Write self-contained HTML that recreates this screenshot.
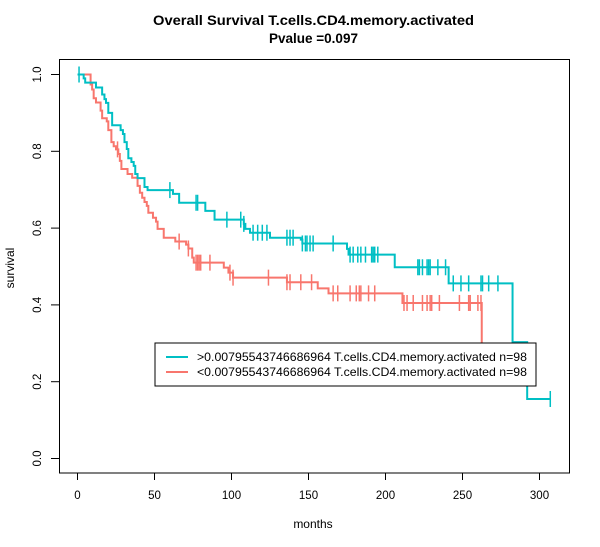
<!DOCTYPE html>
<html><head><meta charset="utf-8"><style>
body{margin:0;background:#fff}
svg{display:block;font-family:"Liberation Sans",Arial,sans-serif}
</style></head><body>
<svg id="chart" width="600" height="547">
<rect x="0" y="0" width="600" height="547" fill="#fff"/>
<text x="313.5" y="25" text-anchor="middle" font-size="13.5" font-weight="bold" textLength="321" lengthAdjust="spacingAndGlyphs">Overall Survival T.cells.CD4.memory.activated</text>
<text x="313.5" y="43" text-anchor="middle" font-size="13.5" font-weight="bold">Pvalue =0.097</text>
<rect x="59.5" y="59.5" width="510" height="413.5" fill="none" stroke="#000"/>
<g id="xaxis"></g>
<g id="yaxis"></g>
<text x="313" y="528" text-anchor="middle" font-size="12">months</text>
<text x="14" y="268" text-anchor="middle" font-size="12" transform="rotate(-90 14 268)">survival</text>
<g id="series"></g>
<g>
<rect x="155" y="343" width="381" height="43" fill="#fff" stroke="#000"/>
<line x1="166" y1="357" x2="188" y2="357" stroke="#00BFC4" stroke-width="2"/>
<line x1="166" y1="372" x2="188" y2="372" stroke="#F8766D" stroke-width="2"/>
<text x="197" y="361" font-size="12" textLength="330" lengthAdjust="spacingAndGlyphs">&gt;0.00795543746686964 T.cells.CD4.memory.activated n=98</text>
<text x="197" y="376" font-size="12" textLength="330" lengthAdjust="spacingAndGlyphs">&lt;0.00795543746686964 T.cells.CD4.memory.activated n=98</text>
</g>
</svg>
<script>
const xTicks=[0,50,100,150,200,250,300];
const yTicks=[0,0.2,0.4,0.6,0.8,1.0];
const yTickLabels=["0.0","0.2","0.4","0.6","0.8","1.0"];
const highTimes=[0,4,5,12,16,17.5,18.5,20,22.5,28,29.5,30.5,32,33,35,36.5,37.5,39,43.5,45.5,62,66,83,89,108,109,112,125,145,146,175,176,206,241,282.5,292,307];
const highSurv=[1,0.99,0.979,0.966,0.948,0.936,0.926,0.90,0.868,0.855,0.845,0.824,0.806,0.782,0.772,0.762,0.741,0.730,0.707,0.699,0.689,0.666,0.645,0.622,0.611,0.598,0.588,0.575,0.570,0.56,0.546,0.531,0.498,0.456,0.303,0.155,0.155];
const highCensor=[1,60,77,78,97,106,108,114,117,120,123,136,138,140,146,148,149,151,153,166,177,179,182,184,187,191,192,193,195,221,222,224,227,228,229,234,239,244,249,254,262,263,267,273,307];
const lowTimes=[0,8.5,9.5,10.5,12,15,16,19,20,22,23.5,25,26.5,27.5,28.5,32.5,35.5,39,40.5,42,43.5,45,46,49,51,52,56,63.5,70.5,72,74.5,75.5,95,98,101,136,156,163,211,262.5];
const lowSurv=[1,0.974,0.961,0.938,0.927,0.906,0.886,0.878,0.855,0.824,0.813,0.805,0.793,0.775,0.754,0.741,0.731,0.71,0.692,0.679,0.668,0.658,0.64,0.627,0.617,0.598,0.575,0.565,0.557,0.547,0.523,0.510,0.497,0.484,0.471,0.459,0.443,0.43,0.405,0.19];
const lowCensor=[26,66,72,77,78,79,80,86,99,101,124,136,138,145,152,166,169,177,181,183,184,189,193,212,214,218,224,227,229,230,235,248,254,255,260,262];
const X=t=>77.5+t*1.54, Y=s=>458.5-s*384;
const NS="http://www.w3.org/2000/svg";
function mk(tag,attrs,parent){const e=document.createElementNS(NS,tag);for(const k in attrs)e.setAttribute(k,attrs[k]);parent.appendChild(e);return e;}
const xa=document.getElementById('xaxis'), ya=document.getElementById('yaxis');
xTicks.forEach(t=>{mk('line',{x1:X(t),y1:473,x2:X(t),y2:480,stroke:'#000'},xa);
 const tx=mk('text',{x:X(t),y:499,'text-anchor':'middle','font-size':11.5},xa);tx.textContent=t;
 
 });
yTicks.forEach((s,i)=>{mk('line',{x1:51,y1:Y(s),x2:59.5,y2:Y(s),stroke:'#000'},ya);
 const tx=mk('text',{x:41,y:Y(s),'text-anchor':'middle','font-size':11.5,transform:`rotate(-90 41 ${Y(s)})`},ya);tx.textContent=yTickLabels[i];
 
 });
const sg=document.getElementById('series');
function survAt(times,surv,t){let s=surv[0];for(let i=0;i<times.length;i++){if(times[i]<=t)s=surv[i];}return s;}
function drawSeries(times,surv,cens,color,name){
 const g=mk('g',{},sg);
 
 
 let d=`M${X(times[0])},${Y(surv[0])}`;
 for(let i=1;i<times.length;i++){d+=` H${X(times[i])} V${Y(surv[i])}`;}
 mk('path',{d:d,fill:'none',stroke:color,'stroke-width':2},g);
 cens.forEach(t=>{const s=survAt(times,surv,t);
  const l=mk('line',{x1:X(t),y1:Y(s)-8,x2:X(t),y2:Y(s)+8,stroke:color,'stroke-width':1.5},g);
  
  });
}
drawSeries(lowTimes,lowSurv,lowCensor,'#F8766D','low-group-curve');
drawSeries(highTimes,highSurv,highCensor,'#00BFC4','high-group-curve');
</script>
</body></html>
